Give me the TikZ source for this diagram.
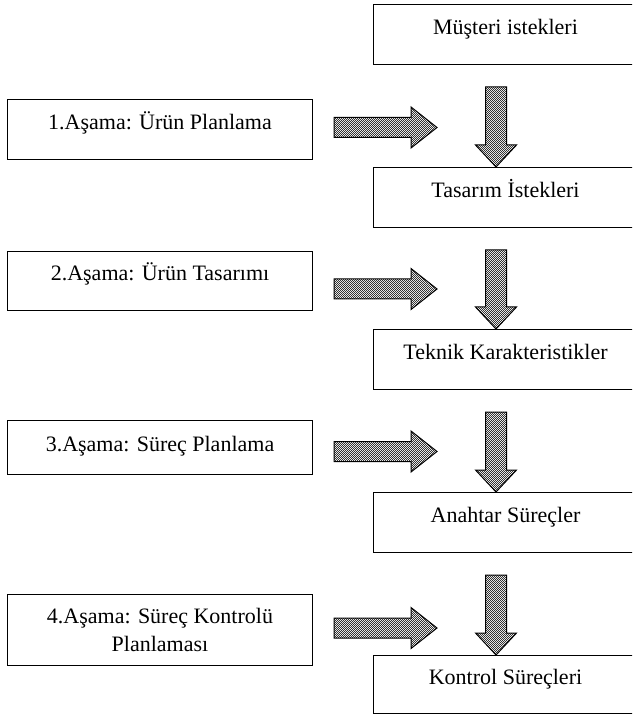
\documentclass[tikz,border=0pt]{standalone}
\usepackage{fontspec}
\setmainfont{Liberation Serif}
\usetikzlibrary{calc, patterns}

\pgfdeclarepatternformonly{finedots}{\pgfpointorigin}{\pgfpoint{1.2pt}{1.2pt}}{\pgfpoint{1.2pt}{1.2pt}}{%
	\pgfpathrectangle{\pgfpointorigin}{\pgfpoint{0.6pt}{0.6pt}}%
	\pgfpathrectangle{\pgfpoint{0.6pt}{0.6pt}}{\pgfpoint{0.6pt}{0.6pt}}%
	\pgfusepath{fill}}

\tikzset{
	box/.style = {draw, line width=0.5pt, inner sep=0pt, anchor=north west, font=\fontsize{11}{14}\selectfont},
	oneline/.style = {text height=5pt, text depth=5pt},
	stagebox/.style = {box, minimum width=152.5pt, minimum height=#1},
	reqbox/.style = {box, oneline, minimum width=132pt, minimum height=#1},
	blockarrow/.style = {draw, line width=0.5pt, preaction={fill=white}, pattern=finedots, pattern color=black!80}
}

\begin{document}
\begin{tikzpicture}[x=0.5pt, y=-0.5pt]
		\def\hd{22};
		\def\sw{10.5};
		\def\hw{20.5};
		
		\useasboundingbox (0,0) rectangle (632,715);
		\clip (0,0) rectangle (632,715);
		
		% asamalar
		\node (as1) [stagebox=30pt, oneline] at (7,99) {1.Aşama: Ürün Planlama};
		\node (as2) [stagebox=29.5pt, oneline] at (7,251) {2.Aşama: Ürün Tasarımı};
		\node (as3) [stagebox=27pt, text height=7pt, text depth=3pt] at (7,420) {3.Aşama: Süreç Planlama};
		\node (as4) [stagebox=35.5pt, align=center] at (7,594) {4.Aşama: Süreç Kontrolü\\Planlaması};
		
		% istekler
		\node (mus) [reqbox=30pt] at (373,4) {Müşteri istekleri};
		\node (tas) [reqbox=30pt] at (373,167) {Tasarım İstekleri};
		\node (tek) [reqbox=30pt] at (373,329) {Teknik Karakteristikler};
		\node (ana) [reqbox=30pt] at (373,492) {Anahtar Süreçler};
		\node (kon) [reqbox=29pt] at (373,655) {Kontrol Süreçleri};
		
		\foreach \a/\b in {mus/tas, tas/tek, tek/ana, ana/kon}{
			\coordinate (top) at ($(\a.south west)+(123,22)$);
			\coordinate (tip) at ($(\b.north west)+(123,0)$);
			\draw [blockarrow] ($(top)+(-\sw,0)$) -- ($(top)+(\sw,0)$) -- ($(tip)+(\sw,-\hd)$) -- ($(tip)+(\hw,-\hd)$) -- (tip) -- ($(tip)+(-\hw,-\hd)$) -- ($(tip)+(-\sw,-\hd)$) -- cycle;
		}
		
		\foreach \n/\dy in {1/-2, 2/8, 3/4, 4/-2}{
			\coordinate (st) at ($(as\n.east)+(21,\dy)$);
			\draw [blockarrow] ($(st)+(0,-10)$) -- ++(77,0) -- ++(0,-10.5) -- ++(26,20.5) -- ++(-26,20.5) -- ++(0,-10.5) -- ++(-77,0) -- cycle;
		}
	\end{tikzpicture}
\end{document}
